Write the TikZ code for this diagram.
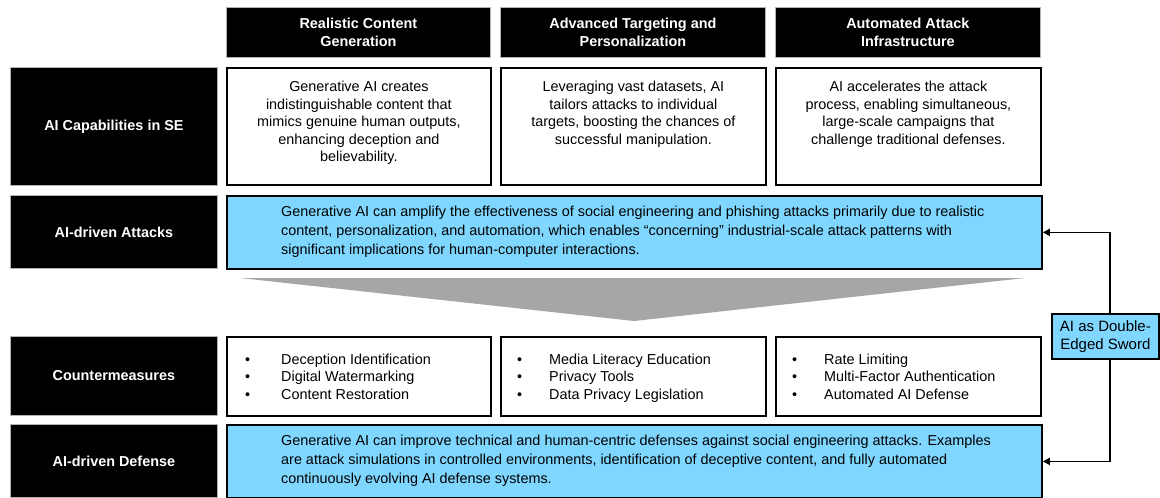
\documentclass[tikz,border=0pt]{standalone}
\usepackage{fontspec}
\setmainfont{Liberation Sans}
\usetikzlibrary{arrows.meta}
\definecolor{lblue}{HTML}{7FD7FF}
\definecolor{funnel}{HTML}{A6A6A6}
\begin{document}
\begin{tikzpicture}[x=1pt,y=-1pt,
  blk/.style={fill=black, draw=gray!60, line width=0.8pt, text=white,
    font=\fontsize{14.4}{18}\selectfont\bfseries, align=center,
    anchor=north west, inner sep=0pt},
  wbox/.style={draw=black, line width=1.8pt, fill=white, anchor=north west, inner sep=0pt},
  bbox/.style={draw=black, line width=1.8pt, fill=lblue, anchor=north west, inner sep=0pt},
  body/.style={font=\fontsize{14.4}{17.5}\selectfont, inner sep=0pt},
  arr/.style={line width=1.8pt, -{Triangle[length=7pt,width=7pt]}}]
\useasboundingbox (0,0) rectangle (1160,498);

% headers
\node[blk, minimum width=264pt, minimum height=50pt] (h1) at (226,7) {Realistic Content\\Generation};
\node[blk, minimum width=265pt, minimum height=50pt] (h2) at (500,7) {Advanced Targeting and\\Personalization};
\node[blk, minimum width=265pt, minimum height=50pt] (h3) at (775,7) {Automated Attack\\Infrastructure};

% row labels
\node[blk, minimum width=207pt, minimum height=118pt] (l1) at (10,67) {AI Capabilities in SE};
\node[blk, minimum width=207pt, minimum height=73pt] (l2) at (10,195) {AI-driven Attacks};
\node[blk, minimum width=207pt, minimum height=79pt] (l3) at (10,336) {Countermeasures};
\node[blk, minimum width=207pt, minimum height=73pt] (l4) at (10,424) {AI-driven Defense};

% capability boxes
\node[wbox, minimum width=264pt, minimum height=117pt] (c1) at (226,67) {};
\node[wbox, minimum width=265pt, minimum height=117pt] (c2) at (500,67) {};
\node[wbox, minimum width=265pt, minimum height=117pt] (c3) at (775,67) {};
\node[body, align=center, anchor=north] (c1t) at ([yshift=-14pt]c1.north) {Generative AI creates\\indistinguishable content that\\mimics genuine human outputs,\\enhancing deception and\\believability.};
\node[body, align=center, anchor=north] (c2t) at ([yshift=-14pt]c2.north) {Leveraging vast datasets, AI\\tailors attacks to individual\\targets, boosting the chances of\\successful manipulation.};
\node[body, align=center, anchor=north] (c3t) at ([yshift=-14pt]c3.north) {AI accelerates the attack\\process, enabling simultaneous,\\large-scale campaigns that\\challenge traditional defenses.};

% attacks
\node[bbox, minimum width=815pt, minimum height=73pt] (att) at (226,195) {};
\node[body, font=\fontsize{14.4}{19}\selectfont, align=left, anchor=west] (attt) at (281,231.5) {Generative AI can amplify the effectiveness of social engineering and phishing attacks primarily due to realistic\\content, personalization, and automation, which enables “concerning” industrial-scale attack patterns with\\significant implications for human-computer interactions.};

% funnel
\fill[funnel] (240,278) -- (1025,278) -- (634,321) -- cycle;

% countermeasures
\node[wbox, minimum width=264pt, minimum height=79pt] (m1) at (226,336) {};
\node[wbox, minimum width=265pt, minimum height=79pt] (m2) at (500,336) {};
\node[wbox, minimum width=265pt, minimum height=79pt] (m3) at (775,336) {};
\node[body, align=left, anchor=north west] (m1t) at ([xshift=19pt,yshift=-16pt]m1.north west) {\strut\makebox[36pt][l]{•}Deception Identification\\\makebox[36pt][l]{•}Digital Watermarking\\\makebox[36pt][l]{•}Content Restoration};
\node[body, align=left, anchor=north west] (m2t) at ([xshift=17pt,yshift=-16pt]m2.north west) {\strut\makebox[32pt][l]{•}Media Literacy Education\\\makebox[32pt][l]{•}Privacy Tools\\\makebox[32pt][l]{•}Data Privacy Legislation};
\node[body, align=left, anchor=north west] (m3t) at ([xshift=17pt,yshift=-16pt]m3.north west) {\strut\makebox[32pt][l]{•}Rate Limiting\\\makebox[32pt][l]{•}Multi-Factor Authentication\\\makebox[32pt][l]{•}Automated AI Defense};

% defense
\node[bbox, minimum width=815pt, minimum height=73pt] (def) at (226,424) {};
\node[body, font=\fontsize{14.4}{19}\selectfont, align=left, anchor=west] (deft) at (281,460.5) {Generative AI can improve technical and human-centric defenses against social engineering attacks. Examples\\are attack simulations in controlled environments, identification of deceptive content, and fully automated\\continuously evolving AI defense systems.};

% double-edged sword
\node[bbox, minimum width=107pt, minimum height=45pt, align=center, font=\fontsize{15}{18}\selectfont] (sw) at (1051,313) {AI as Double-\\Edged Sword};
\coordinate (vx) at (1110,0);
\draw[arr] (sw.north -| vx) |- (att.east);
\draw[arr] (sw.south -| vx) |- (def.east);
\end{tikzpicture}
\end{document}
